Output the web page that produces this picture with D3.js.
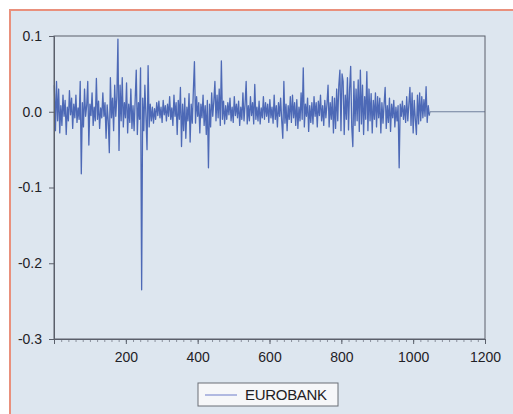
<!DOCTYPE html>
<html>
<head>
<meta charset="utf-8">
<script src="https://cdn.jsdelivr.net/npm/d3@7"></script>
<style>
  html, body { margin: 0; padding: 0; background: #fff; }
  svg { display: block; }
</style>
</head>
<body>
<svg id="chart" width="513" height="414"></svg>
<script>
const seriesName = "EUROBANK"
const obsStart = 1
const obsStep = 3
const returns = [
  .035, -.025, .04, -.012, .03, -.028, .008, -.018, .022, -.006,
  .015, -.03, .006, -.012, .028, -.004, .018, -.022, .01, -.008,
  .022, -.014, .005, -.01, .04, -.082, .012, -.02, .03, -.006,
  .008, .04, -.044, .01, -.005, .025, -.018, .006, -.012, .044,
  -.01, .014, -.022, .005, -.008, .025, -.006, .012, -.035, .009,
  -.012, -.054, .045, -.008, .018, -.025, .035, -.006, .02, .096,
  -.051, .035, -.012, .045, -.02, .012, -.008, .038, -.028, .01,
  -.014, .03, -.022, .008, -.025, .016, .055, -.03, .012, -.01,
  .058, -.235, .018, -.025, .035, -.006, -.05, .061, -.02, .01,
  -.012, .006, -.015, .004, -.01, .012, -.005, .014, -.008, .006,
  -.014, .015, -.004, .008, -.012, .01, -.006, .02, -.01, .005,
  -.018, .022, -.006, .012, -.03, .015, -.01, .032, -.046, .01,
  -.025, .018, -.035, .006, -.012, .024, -.04, .01, -.015, .028,
  .066, -.015, .02, -.006, .012, -.028, .01, -.008, .022, -.018,
  .008, -.03, .015, -.074, .01, -.02, .025, -.006, .014, .04,
  -.012, .022, -.008, .03, -.018, .067, -.01, .014, -.016, .008,
  -.01, .012, -.004, .018, -.012, .006, -.014, .02, -.005, .01,
  -.008, .014, -.018, .006, -.01, .025, -.012, .01, .04, -.016,
  .008, -.012, .02, -.005, .012, -.016, .036, -.01, .006, -.012,
  .014, -.016, .005, -.008, .02, -.01, .012, -.006, .01, -.014,
  .016, -.008, .006, -.015, .022, -.01, .008, -.02, .012, -.006,
  .018, -.012, -.035, .04, -.015, .01, -.025, .008, -.01, .02,
  -.014, .022, -.008, .012, -.018, .016, -.022, .006, -.012, .025,
  -.01, .058, -.02, .01, -.006, .018, -.026, .008, -.014, .012,
  -.016, .02, -.006, .012, -.02, .014, -.005, .022, -.012, .008,
  -.018, .015, -.008, .01, .035, -.02, .012, -.01, .02, -.028,
  .018, -.022, .03, -.012, .035, .055, -.025, .05, .04, -.03,
  .022, -.01, .045, -.024, .03, .06, -.02, -.046, .04, -.018,
  .03, -.012, .042, -.026, .055, -.016, .035, -.03, .02, -.01,
  .053, -.025, .03, -.012, .024, -.028, .015, -.01, .025, -.02,
  .02, -.008, .018, -.028, .012, -.015, .01, .032, -.022, .008,
  -.014, .018, -.026, .01, -.008, .015, -.02, .006, -.012, .008,
  -.074, .01, -.006, .014, -.01, .008, -.014, .02, -.012, .01,
  .032, -.018, .025, -.028, .015, -.01, -.03, .022, -.016, .025,
  -.012, .02, -.008, .016, -.006, .033, -.014, .008, -.005
]
/* the series sits at zero after the last observation, up to the end of the axis */
const flatTail = [[1047, 0], [1200, 0]]

const xTicks = [200, 400, 600, 800, 1000, 1200]
const yTicks = [0.1, 0.0, -0.1, -0.2, -0.3]

/* Chart dimensions */
const width = 513
const height = 414
const marginTop = 36
const marginRight = 28
const marginBottom = 75
const marginLeft = 54

const svg = d3.select("#chart")
  .attr("viewBox", [0, 0, width, height])
  .style("font-family", "'Liberation Sans', Arial, sans-serif")

/* panel background with salmon frame */
svg.append("rect")
  .attr("x", 10).attr("y", 10)
  .attr("width", width).attr("height", height)
  .attr("fill", "#dde6ef")
  .attr("stroke", "#e9907c")
  .attr("stroke-width", 2)

const x = d3.scaleLinear([0, 1200], [marginLeft, width - marginRight])
const y = d3.scaleLinear([-0.3, 0.1], [height - marginBottom, marginTop])

const data = returns.map((v, i) => [obsStart + i * obsStep, v])

const line = d3.line()
  .x(d => x(d[0]))
  .y(d => y(d[1]))

svg.append("path")
  .attr("fill", "none")
  .attr("stroke", "#6f7f9c")
  .attr("stroke-width", 1)
  .attr("d", line([data[data.length - 1], ...flatTail]))

svg.append("path")
  .attr("fill", "none")
  .attr("stroke", "#4d69b6")
  .attr("stroke-width", 1.3)
  .attr("stroke-linejoin", "round")
  .attr("d", line(data))

/* plot frame */
svg.append("rect")
  .attr("x", marginLeft)
  .attr("y", marginTop)
  .attr("width", width - marginLeft - marginRight)
  .attr("height", height - marginTop - marginBottom)
  .attr("fill", "none")
  .attr("stroke", "#5a5f6a")
  .attr("stroke-width", 1)

const fmt = d => d3.format(".1f")(d).replace("\u2212", "-")

/* x axis: minor ticks */
svg.append("g")
  .attr("transform", `translate(0, ${height - marginBottom})`)
  .call(d3.axisBottom(x).tickValues(d3.range(20, 1200, 20)).tickSize(3).tickFormat(""))
  .call(g => g.select(".domain").remove())
  .call(g => g.selectAll(".tick line").attr("stroke", "#8a909c"))

/* x axis: labels */
svg.append("g")
  .attr("transform", `translate(0, ${height - marginBottom})`)
  .call(d3.axisBottom(x).tickValues(xTicks).tickFormat(d3.format("d")).tickSize(5).tickPadding(8))
  .call(g => g.select(".domain").attr("stroke", "#5a5f6a"))
  .call(g => g.selectAll(".tick line").attr("stroke", "#5a5f6a"))
  .call(g => g.selectAll(".tick text")
    .attr("font-size", 14)
    .attr("fill", "#1f2227"))

/* y axis */
svg.append("g")
  .attr("transform", `translate(${marginLeft}, 0)`)
  .call(d3.axisLeft(y).tickValues(yTicks).tickFormat(fmt).tickSize(5).tickPadding(7))
  .call(g => g.select(".domain").attr("stroke", "#5a5f6a"))
  .call(g => g.selectAll(".tick line").attr("stroke", "#5a5f6a"))
  .call(g => g.selectAll(".tick text")
    .attr("font-size", 14)
    .attr("fill", "#1f2227"))

/* legend */
const legend = svg.append("g").attr("transform", "translate(198, 383)")
legend.append("rect")
  .attr("width", 140).attr("height", 23)
  .attr("fill", "#f6f7f9")
  .attr("stroke", "#6a6e76")
  .attr("stroke-width", 1)
legend.append("line")
  .attr("x1", 7).attr("x2", 39)
  .attr("y1", 12).attr("y2", 12)
  .attr("stroke", "#9aa4d8")
  .attr("stroke-width", 1.5)
legend.append("text")
  .attr("x", 47).attr("y", 17)
  .attr("font-size", 15)
  .attr("letter-spacing", -0.3)
  .attr("fill", "#1e2024")
  .text(seriesName)
</script>
</body>
</html>
